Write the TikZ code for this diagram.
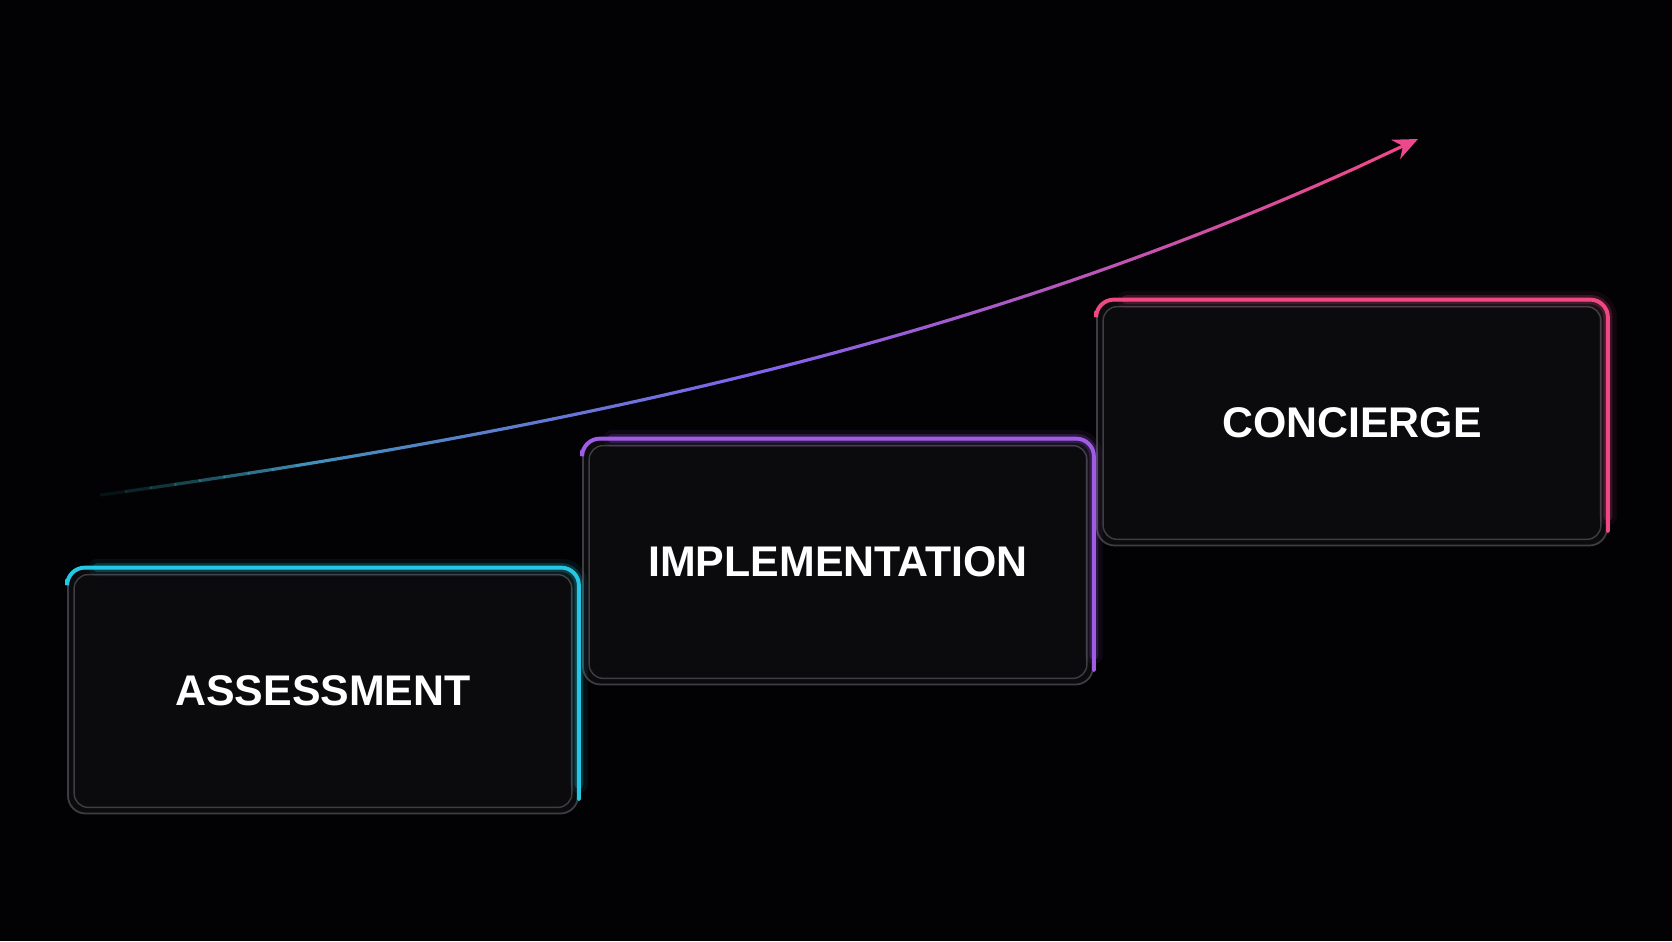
\documentclass[tikz,border=0pt]{standalone}
\usepackage{fontspec}
\setmainfont{Liberation Sans}
\usepackage{xcolor}
\usepackage{tikz}
\usetikzlibrary{arrows.meta,positioning}
\definecolor{bgblack}{RGB}{2,2,4}
\definecolor{boxfill}{RGB}{11,11,13}
\definecolor{rimgray}{RGB}{62,62,66}
\definecolor{stagecyan}{RGB}{34,200,228}
\definecolor{stagepurple}{RGB}{160,92,230}
\definecolor{stagepink}{RGB}{240,72,130}
\definecolor{arcteal}{RGB}{40,160,165}
\definecolor{arcviolet}{RGB}{130,100,235}
\definecolor{arcpink}{RGB}{236,72,140}

\begin{document}
\begin{tikzpicture}[
  font=\fontsize{12.2}{14}\selectfont\bfseries,
  stagebox/.style={draw=rimgray,line width=0.5pt,fill=boxfill,rounded corners=5pt,minimum width=5.1cm,minimum height=2.45cm,text=white,inner sep=0pt},
  rim/.style={draw=rimgray,line width=0.4pt,rounded corners=4pt},
  glowwide/.style={line width=5pt,opacity=0.07,rounded corners=5pt,line cap=round},
  glowmid/.style={line width=2.6pt,opacity=0.2,rounded corners=5pt,line cap=round},
  edge/.style={line width=1.1pt,rounded corners=5pt,line cap=round},
  arcline/.style={line width=0.9pt,line cap=round},
]

\fill[bgblack] (0,0) rectangle (16.72,9.41);

\node[stagebox] (assess) at (3.23,2.50) {ASSESSMENT};
\node[stagebox] (impl) at (8.38,3.79) {IMPLEMENTATION};
\node[stagebox] (conc) at (13.52,5.18) {CONCIERGE};

\foreach \stage/\col in {assess/stagecyan,impl/stagepurple,conc/stagepink} {
  \draw[rim] ([shift={(0.07,-0.07)}]\stage.north west) rectangle ([shift={(-0.07,0.07)}]\stage.south east);
  \foreach \lay in {glowwide,glowmid}
    \draw[\lay,draw=\col] ([xshift=0.3cm]\stage.north west) -- (\stage.north east) -- ([yshift=0.3cm]\stage.south east);
  \draw[edge,draw=\col] ([yshift=-0.12cm]\stage.north west) -- (\stage.north west) -- (\stage.north east) -- ([yshift=0.15cm]\stage.south east);
}

\coordinate (arcstart) at (1.01,4.46);
\coordinate (arcend) at (14.18,8.02);
\path (arcstart) .. controls (6.01,5.16) and (10.18,6.10) .. (arcend)
  foreach \i in {0,...,60} {coordinate[pos=\i/60] (p\i)};

\foreach \i [count=\j from 1] in {0,...,27} {
  \pgfmathsetmacro\mix{\i/28*100}
  \pgfmathsetmacro\fade{min(1,(\i+1)/9)}
  \draw[arcline,draw=arcviolet!\mix!arcteal,draw opacity=\fade] (p\i) -- (p\j);
}
\foreach \i [count=\j from 29] in {28,...,56} {
  \pgfmathsetmacro\mix{(\i-28)/29*100}
  \draw[arcline,draw=arcpink!\mix!arcviolet] (p\i) -- (p\j);
}
\draw[arcline,arcpink,-{Stealth[length=7pt,width=6pt]}] (p57) -- (arcend);

\end{tikzpicture}
\end{document}
